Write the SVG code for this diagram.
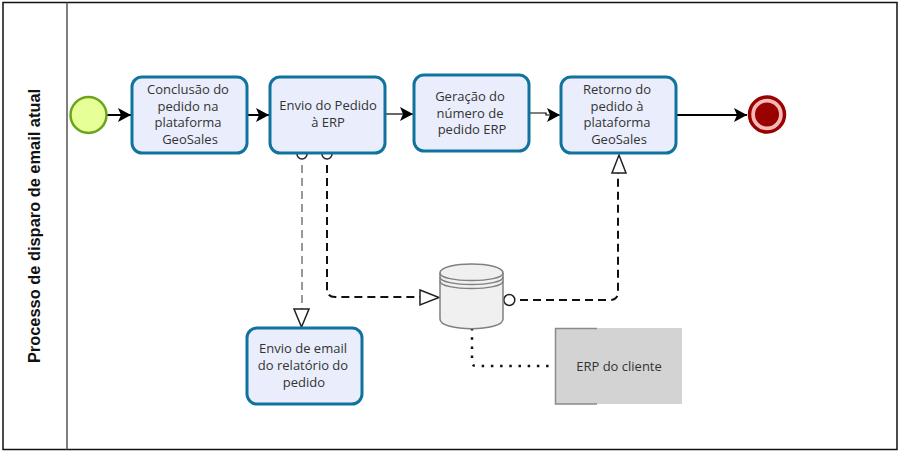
<svg xmlns="http://www.w3.org/2000/svg" width="900" height="452" viewBox="0 0 900 452">
<style>
text{font-family:"Open Sans","Noto Sans","Liberation Sans",sans-serif;font-size:13px;fill:#333;text-anchor:middle}
.task{fill:#eaeefc;stroke:#10739e;stroke-width:3}
.flow{fill:none;stroke:#000;stroke-width:2}
.thin{fill:none;stroke:#000;stroke-width:1.200}
.msg{fill:none;stroke:#111;stroke-width:2;stroke-dasharray:8 5}
.open{fill:#fff;stroke:#222;stroke-width:1.500}
</style>
<defs>
<marker id="solid" markerUnits="userSpaceOnUse" markerWidth="14" markerHeight="14" refX="13" refY="7" orient="auto"><path d="M0 0L13 7L0 14L3 7Z" fill="#000"/></marker>
</defs>
<rect width="900" height="452" fill="#fff"/>
<g id="pool">
<rect x="3" y="2.500" width="894" height="447" fill="#fff" stroke="#111" stroke-width="1.500"/>
<line x1="67" y1="2.500" x2="67" y2="449.500" stroke="#555" stroke-width="1.500"/>
<text transform="translate(40 226) rotate(-90)" style="font-family:'Liberation Sans',Arial,sans-serif;font-size:16.400px;font-weight:700;fill:#111">Processo de disparo de email atual</text>
</g>
<g id="connectors">
<path class="flow" d="M107 115H131" marker-end="url(#solid)"/>
<path class="flow" d="M247 115H269" marker-end="url(#solid)"/>
<path class="thin" d="M385 114H413" marker-end="url(#solid)"/>
<path class="thin" d="M529 113H546V115H560" marker-end="url(#solid)"/>
<path class="flow" d="M676 115H747" marker-end="url(#solid)"/>
<path d="M302 165V310" fill="none" stroke="#999" stroke-width="2" stroke-dasharray="8 5"/>
<path class="open" d="M294 309H309L301.500 327Z"/>
<circle class="open" cx="302" cy="154" r="5"/>
<path class="msg" d="M327 165V289Q327 297 335 297H420"/>
<path class="open" d="M420 290L439 297.500L420 305Z"/>
<circle class="open" cx="327" cy="154" r="5"/>
<path class="msg" d="M520 300H610Q618 300 618 292V173"/>
<path class="open" d="M612 173H626L619 155Z"/>
<circle class="open" cx="509.300" cy="300" r="5.500"/>
<path d="M472 328V362Q472 366 476 366H555" fill="none" stroke="#111" stroke-width="2.500" stroke-dasharray="2.500 6.700"/>
</g>
<g id="start"><circle cx="88.500" cy="115" r="18" fill="#e6ff97" stroke="#6aa51c" stroke-width="2.500"/></g>
<g id="task1"><rect class="task" x="132" y="77" width="115" height="76" rx="10"/>
<text y="94"><tspan x="188">Conclusão do</tspan><tspan x="188" dy="16.600">pedido na</tspan><tspan x="188" dy="16.600">plataforma</tspan><tspan x="190" dy="16.600">GeoSales</tspan></text></g>
<g id="task2"><rect class="task" x="270" y="77" width="115" height="76" rx="10"/>
<text y="110"><tspan x="328">Envio do Pedido</tspan><tspan x="328" dy="16.600">à ERP</tspan></text></g>
<g id="task3"><rect class="task" x="414" y="75" width="115" height="76" rx="10"/>
<text y="101"><tspan x="470">Geração do</tspan><tspan x="470" dy="16.600">número de</tspan><tspan x="472" dy="16.600">pedido ERP</tspan></text></g>
<g id="task4"><rect class="task" x="561" y="77" width="115" height="76" rx="10"/>
<text y="94"><tspan x="617">Retorno do</tspan><tspan x="617" dy="16.600">pedido à</tspan><tspan x="617" dy="16.600">plataforma</tspan><tspan x="619" dy="16.600">GeoSales</tspan></text></g>
<g id="end"><circle cx="767" cy="114.500" r="17.500" fill="#f5b8b8" stroke="#990000" stroke-width="3.500"/><circle cx="767" cy="114.500" r="12" fill="#990000"/></g>
<g id="task5"><rect class="task" x="247" y="328" width="115" height="76" rx="10"/>
<text y="353"><tspan x="303">Envio de email</tspan><tspan x="303" dy="16.800">do relatório do</tspan><tspan x="304" dy="16.800">pedido</tspan></text></g>
<g id="datastore" fill="#f0f0f0" stroke="#808080" stroke-width="1.500">
<path d="M440 273C440 261 503 261 503 273V319C503 332 440 332 440 319Z"/>
<path d="M440 273C440 283 503 283 503 273" fill="none"/>
<path d="M440 277C440 287 503 287 503 277" fill="none"/>
<path d="M440 281C440 291 503 291 503 281" fill="none"/>
</g>
<g id="erp"><rect x="555" y="328" width="127" height="76" fill="#d3d3d3"/>
<path d="M597 328.500H555.500V404H597" fill="none" stroke="#8a8a8a" stroke-width="1.500"/>
<text x="619" y="371">ERP do cliente</text></g>
</svg>
